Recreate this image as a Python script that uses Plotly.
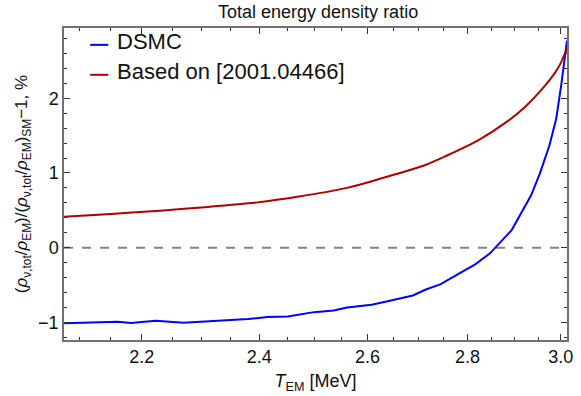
import math
import plotly.graph_objects as go

# DSMC data
dsmc_T = [2.077, 2.122, 2.161, 2.182, 2.223, 2.269, 2.311, 2.351, 2.380, 2.415, 2.451,
          2.499, 2.536, 2.561, 2.608, 2.637, 2.689, 2.715, 2.745, 2.775, 2.816, 2.847,
          2.893, 2.935, 2.954, 2.975, 2.990, 3.001, 3.008, 3.014]
dsmc_val = [-1.013, -1.000, -0.992, -1.009, -0.979, -1.005, -0.987, -0.973, -0.956, -0.929, -0.920,
            -0.863, -0.840, -0.800, -0.765, -0.720, -0.640, -0.560, -0.489, -0.373, -0.223, -0.076,
            0.235, 0.700, 0.990, 1.368, 1.724, 2.168, 2.480, 2.770]

# Curve based on [2001.04466]
ref_T = [2.077, 2.150, 2.230, 2.311, 2.397, 2.4685, 2.561, 2.656, 2.715, 2.755, 2.823,
         2.886, 2.921, 2.964, 2.986, 3.000, 3.014]
ref_val = [0.413, 0.452, 0.495, 0.545, 0.606, 0.680, 0.800, 0.985, 1.110, 1.225, 1.440,
           1.700, 1.880, 2.160, 2.330, 2.470, 2.667]

series_names = ["DSMC", "Based on [2001.04466]"]
series_colors = ["#0000FF", "#AA0000"]

x_ticks = [2.2, 2.4, 2.6, 2.8, 3.0]
x_ticktext = ["2.2", "2.4", "2.6", "2.8", "3.0"]
x_minor = [2.1, 2.15, 2.25, 2.3, 2.35, 2.45, 2.5, 2.55, 2.65, 2.7, 2.75, 2.85, 2.9, 2.95]
y_ticks = [-1, 0, 1, 2]
y_ticktext = ["\u22121", "0", "1", "2"]
y_minor = [-1.2, -0.8, -0.6, -0.4, -0.2, 0.2, 0.4, 0.6, 0.8, 1.2, 1.4, 1.6, 1.8, 2.2, 2.4, 2.6, 2.8]

x_range = [2.0768, 3.014]
y_range = [-1.236, 2.94]

font = "Liberation Sans, Arial, sans-serif"

fig = go.Figure()
fig.add_trace(go.Scatter(x=dsmc_T, y=dsmc_val, mode="lines", name=series_names[0],
                         line=dict(color=series_colors[0], width=2), showlegend=False))
fig.add_trace(go.Scatter(x=ref_T, y=ref_val, mode="lines", name=series_names[1],
                         line=dict(color=series_colors[1], width=2, shape="spline", smoothing=0.8),
                         showlegend=False))

fig.add_shape(type="line", xref="paper", yref="y", x0=0, x1=1, y0=0, y1=0,
              line=dict(color="rgba(100,100,100,0.8)", width=2, dash="dash"), layer="below")

# legend drawn inside the frame (top-left)
leg_y = [0.946, 0.850]
leg_text_y = [0.958, 0.862]
for name, color, ly, ty in zip(series_names, series_colors, leg_y, leg_text_y):
    fig.add_shape(type="line", xref="paper", yref="paper", x0=0.052, x1=0.088, y0=ly, y1=ly,
                  line=dict(color=color, width=2))
    fig.add_annotation(xref="paper", yref="paper", x=0.102, y=ty, xanchor="left", yanchor="middle",
                       text=name, showarrow=False,
                       font=dict(size=22, color="#111111", family=font))

axis_common = dict(showgrid=False, zeroline=False, showline=True, linecolor="#707070",
                   linewidth=1.5, mirror="allticks", ticks="inside", ticklen=6,
                   tickwidth=1, tickcolor="#333333",
                   tickfont=dict(size=18, color="#111111", family=font))

fig.update_xaxes(type="log", range=[math.log10(x_range[0]), math.log10(x_range[1])],
                 tickmode="array", tickvals=x_ticks, ticktext=x_ticktext,
                 minor=dict(tickmode="array", tickvals=x_minor, ticks="inside", ticklen=3,
                            tickcolor="#333333", tickwidth=1),
                 title=dict(text="<i>T</i><sub>EM</sub> [MeV]",
                            font=dict(size=18, color="#111111", family=font), standoff=8),
                 **axis_common)
fig.update_yaxes(range=y_range, tickmode="array", tickvals=y_ticks, ticktext=y_ticktext,
                 minor=dict(tickmode="array", tickvals=y_minor, ticks="inside", ticklen=3,
                            tickcolor="#333333", tickwidth=1),
                 title=dict(text="(<i>ρ</i><sub>ν,tot</sub>/<i>ρ</i><sub>EM</sub>)/(<i>ρ</i><sub>ν,tot</sub>/<i>ρ</i><sub>EM</sub>)<sub>SM</sub>\u22121, %",
                            font=dict(size=17, color="#111111", family=font), standoff=6),
                 **axis_common)

fig.update_layout(
    width=581, height=396,
    margin=dict(l=64, r=8, t=28, b=54),
    paper_bgcolor="white", plot_bgcolor="white",
    title=dict(text="Total energy density ratio", x=0.5475, xanchor="center",
               y=0.97, yanchor="middle",
               font=dict(size=18, color="#111111", family=font)),
    showlegend=False,
)

fig.write_html("out.html")
